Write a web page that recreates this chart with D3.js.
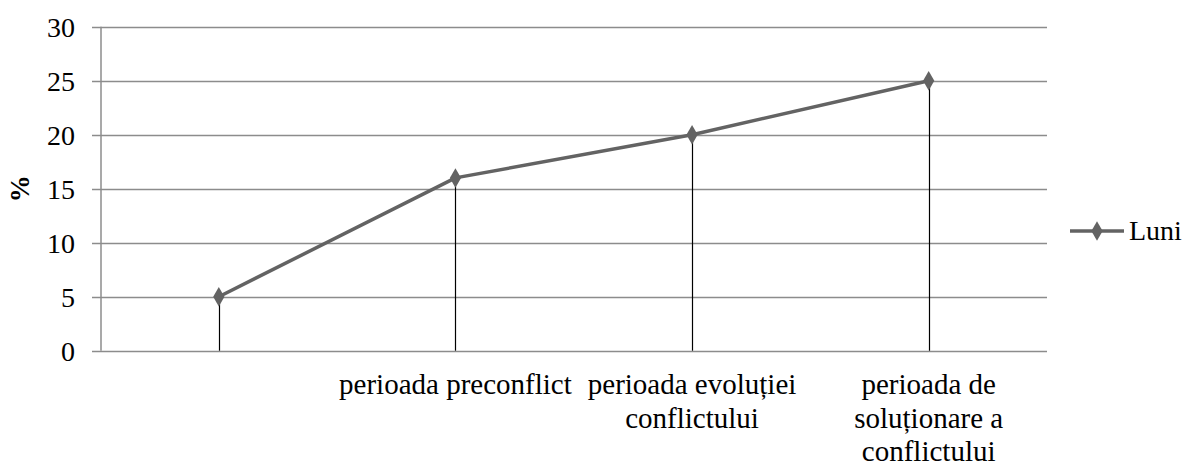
<!DOCTYPE html>
<html>
<head>
<meta charset="utf-8">
<script src="https://cdn.jsdelivr.net/npm/d3@7"></script>
<style>
  html, body { margin: 0; padding: 0; background: #fff; }
</style>
</head>
<body>
<svg id="chart" width="1187" height="466"></svg>
<script>
// ---- data ----
const categories = ["", "perioada preconflict", "perioada evoluției conflictului", "perioada de soluționare a conflictului"];
const categoryLines = [[""], ["perioada preconflict"], ["perioada evoluției", "conflictului"], ["perioada de", "soluționare a", "conflictului"]];
const seriesName = "Luni";
const values = [5, 16, 20, 25];
const yTicks = [0, 5, 10, 15, 20, 25, 30];
const yLabel = "%";

// ---- layout ----
const FONT = '"Liberation Serif"';
const svg = d3.select("#chart");
const plotLeft = 100.5, plotRight = 1047, plotTop = 26.7, plotBottom = 350.7;

const x = d3.scaleBand().domain(categories).range([plotLeft, plotRight]).padding(0);
const y = d3.scaleLinear().domain([0, 30]).range([plotBottom, plotTop]);
const cx = c => x(c) + x.bandwidth() / 2;

// gridlines
svg.append("g").selectAll("line").data(yTicks).join("line")
  .attr("x1", 92).attr("x2", plotRight)
  .attr("y1", d => Math.round(y(d)) + 0.5).attr("y2", d => Math.round(y(d)) + 0.5)
  .attr("stroke", "#8c8c8c").attr("stroke-width", 1.3);

// y axis line
svg.append("line")
  .attr("x1", 101).attr("x2", 101)
  .attr("y1", y(30)).attr("y2", y(0))
  .attr("stroke", "#8c8c8c").attr("stroke-width", 1.5);

// y tick labels
svg.append("g").selectAll("text").data(yTicks).join("text")
  .attr("x", 75).attr("y", d => y(d) + 10)
  .attr("text-anchor", "end")
  .style("font-family", FONT).style("font-size", "28px")
  .attr("fill", "#000")
  .text(d => d);

// y axis title
svg.append("text")
  .attr("transform", `translate(29,${(plotTop + plotBottom) / 2}) rotate(-90)`)
  .attr("text-anchor", "middle")
  .style("font-family", FONT).style("font-size", "27px")
  .style("font-weight", "bold")
  .text(yLabel);

// drop lines
svg.append("g").selectAll("line").data(values).join("line")
  .attr("x1", (d, i) => Math.round(cx(categories[i])) + 0.5)
  .attr("x2", (d, i) => Math.round(cx(categories[i])) + 0.5)
  .attr("y1", d => y(d)).attr("y2", y(0))
  .attr("stroke", "#000").attr("stroke-width", 1.2);

// series line
const line = d3.line().x((d, i) => cx(categories[i])).y(d => y(d));
svg.append("path").datum(values)
  .attr("d", line)
  .attr("fill", "none")
  .attr("stroke", "#636363")
  .attr("stroke-width", 3.5)
  .attr("stroke-linejoin", "round");

// markers
const diamond = d3.symbol().type(d3.symbolDiamond).size(110);
svg.append("g").selectAll("path").data(values).join("path")
  .attr("transform", (d, i) => `translate(${cx(categories[i])},${y(d)})`)
  .attr("d", diamond)
  .attr("fill", "#636363");

// category labels
const lab = svg.append("g").selectAll("text").data(categoryLines).join("text")
  .attr("text-anchor", "middle")
  .style("font-family", FONT).style("font-size", "29px")
  .attr("fill", "#000");
lab.each(function(lines, i) {
  const t = d3.select(this);
  lines.forEach((s, j) => {
    t.append("tspan")
      .attr("x", cx(categories[i]))
      .attr("y", 394 + j * 33.5)
      .text(s);
  });
});

// legend
const ly = 231;
svg.append("line").attr("x1", 1070).attr("x2", 1124).attr("y1", ly).attr("y2", ly)
  .attr("stroke", "#636363").attr("stroke-width", 3.5);
svg.append("path").attr("transform", `translate(1097,${ly})`).attr("d", diamond).attr("fill", "#636363");
svg.append("text").attr("x", 1129).attr("y", ly + 9)
  .style("font-family", FONT).style("font-size", "28px")
  .text(seriesName);
</script>
</body>
</html>
